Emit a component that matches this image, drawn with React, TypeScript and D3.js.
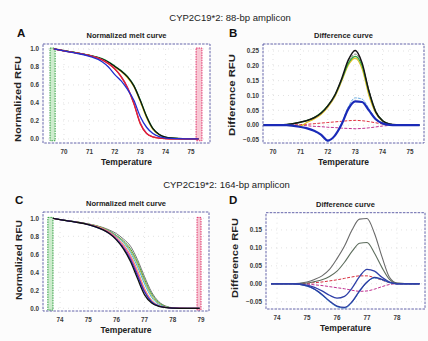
import React from "react";
import * as d3 from "d3";

// ---------------- data ----------------
const titleTop = "CYP2C19*2: 88-bp amplicon";
const titleBottom = "CYP2C19*2: 164-bp amplicon";
const meltTitle = "Normalized melt curve";
const diffTitle = "Difference curve";
const meltYLabel = "Normalized RFU";
const diffYLabel = "Difference RFU";
const xLabel = "Temperature";

// Panel A – normalized melt, 88 bp
const tempA = [69.6, 70, 70.5, 71, 71.5, 71.75, 72, 72.25, 72.5, 72.75, 73, 73.25, 73.5, 73.75, 74, 74.5, 75, 75.3];
const meltA_yellow = [1.0, 0.98, 0.957, 0.928, 0.887, 0.85, 0.8, 0.748, 0.68, 0.58, 0.415, 0.235, 0.105, 0.045, 0.018, 0.004, 0.001, 0];
const meltA_green = [1.0, 0.98, 0.958, 0.93, 0.892, 0.857, 0.81, 0.76, 0.695, 0.595, 0.435, 0.255, 0.118, 0.05, 0.02, 0.005, 0.001, 0];
const meltA_black = [1.0, 0.98, 0.957, 0.928, 0.888, 0.852, 0.805, 0.755, 0.69, 0.59, 0.43, 0.25, 0.115, 0.05, 0.02, 0.005, 0.001, 0];
const meltA_orange = [1.0, 0.979, 0.955, 0.925, 0.879, 0.837, 0.778, 0.693, 0.57, 0.395, 0.175, 0.062, 0.023, 0.009, 0.004, 0.001, 0, 0];
const meltA_magenta = [1.0, 0.979, 0.955, 0.926, 0.88, 0.838, 0.78, 0.695, 0.575, 0.4, 0.18, 0.065, 0.024, 0.01, 0.004, 0.001, 0, 0];
const meltA_red = [1.0, 0.979, 0.955, 0.925, 0.878, 0.835, 0.775, 0.69, 0.565, 0.39, 0.17, 0.06, 0.022, 0.009, 0.004, 0.001, 0, 0];
const meltA_blue = [1.0, 0.978, 0.952, 0.918, 0.858, 0.8, 0.715, 0.645, 0.55, 0.43, 0.25, 0.13, 0.06, 0.025, 0.01, 0.003, 0, 0];
const bandA_green = [69.45, 69.65];
const bandA_red = [75.2, 75.43];

// Panel B – difference, 88 bp
const tempB = [69.65, 70, 70.5, 71, 71.25, 71.5, 71.75, 72, 72.25, 72.5, 72.75, 73, 73.25, 73.5, 73.75, 74, 74.25, 74.5, 75, 75.35];
const diffB_yellow = [0, 0, -0.001, -0.002, 0.01, 0.021, 0.036, 0.06, 0.094, 0.146, 0.202, 0.226, 0.19, 0.1, 0.04, 0.012, 0.003, 0.001, 0, 0];
const diffB_gray = [0, 0, 0.002, 0.01, 0.016, 0.025, 0.04, 0.064, 0.098, 0.15, 0.21, 0.24, 0.205, 0.118, 0.048, 0.016, 0.004, 0.001, 0, 0];
const diffB_green = [0, 0, 0.002, 0.01, 0.016, 0.026, 0.042, 0.066, 0.1, 0.152, 0.208, 0.232, 0.2, 0.112, 0.045, 0.015, 0.004, 0.001, 0, 0];
const diffB_black = [0, 0, 0.002, 0.01, 0.016, 0.025, 0.04, 0.065, 0.1, 0.155, 0.22, 0.252, 0.21, 0.115, 0.045, 0.015, 0.004, 0.001, 0, 0];
const diffB_cyan = [0, 0, 0, -0.006, -0.011, -0.02, -0.034, -0.054, -0.036, 0.005, 0.062, 0.092, 0.088, 0.056, 0.022, 0.006, 0.001, 0, 0, 0];
const diffB_blue = [0, 0, 0, -0.006, -0.011, -0.019, -0.032, -0.052, -0.036, 0.002, 0.055, 0.08, 0.078, 0.05, 0.02, 0.006, 0.001, 0, 0, 0];
const diffB_red = [0, 0, 0, 0.002, 0.003, 0.005, 0.007, 0.009, 0.011, 0.013, 0.015, 0.016, 0.015, 0.012, 0.008, 0.004, 0.002, 0.001, 0, 0];
const diffB_magenta = [0, 0, 0, -0.001, -0.002, -0.004, -0.005, -0.007, -0.008, -0.01, -0.011, -0.012, -0.011, -0.009, -0.006, -0.003, -0.001, 0, 0, 0];

// Panel C – normalized melt, 164 bp
const tempC = [73.75, 74, 74.5, 75, 75.5, 75.75, 76, 76.25, 76.5, 76.75, 77, 77.25, 77.5, 77.75, 78, 78.5, 78.95];
const meltC_gray = [1, 0.986, 0.965, 0.938, 0.9, 0.87, 0.83, 0.77, 0.69, 0.54, 0.35, 0.18, 0.075, 0.025, 0.006, 0, 0];
const meltC_green = [1, 0.986, 0.964, 0.937, 0.895, 0.86, 0.81, 0.75, 0.66, 0.51, 0.32, 0.16, 0.065, 0.02, 0.005, 0, 0];
const meltC_olive = [1, 0.986, 0.963, 0.936, 0.893, 0.857, 0.805, 0.74, 0.64, 0.49, 0.3, 0.14, 0.055, 0.018, 0.004, 0, 0];
const meltC_cyan = [1, 0.986, 0.963, 0.935, 0.89, 0.855, 0.8, 0.73, 0.62, 0.46, 0.27, 0.12, 0.045, 0.015, 0.004, 0, 0];
const meltC_orange = [1, 0.985, 0.962, 0.934, 0.89, 0.85, 0.79, 0.71, 0.59, 0.42, 0.22, 0.09, 0.032, 0.011, 0.003, 0, 0];
const meltC_pink = [1, 0.985, 0.962, 0.933, 0.885, 0.845, 0.785, 0.7, 0.58, 0.4, 0.21, 0.085, 0.03, 0.01, 0.003, 0, 0];
const meltC_magenta = [1, 0.985, 0.962, 0.932, 0.88, 0.84, 0.775, 0.685, 0.56, 0.38, 0.19, 0.075, 0.028, 0.01, 0.003, 0, 0];
const meltC_blue = [1, 0.985, 0.96, 0.93, 0.875, 0.83, 0.765, 0.67, 0.54, 0.36, 0.18, 0.07, 0.025, 0.009, 0.002, 0, 0];
const meltC_black = [1, 0.985, 0.96, 0.93, 0.875, 0.83, 0.76, 0.66, 0.52, 0.33, 0.15, 0.06, 0.022, 0.008, 0.002, 0, 0];
const bandC_green = [73.57, 73.75];
const bandC_red = [78.86, 79.0];

// Panel D – difference, 164 bp
const tempD = [73.8, 74.5, 75, 75.25, 75.5, 75.75, 76, 76.25, 76.5, 76.75, 77, 77.25, 77.5, 77.75, 78, 78.5, 78.75];
const diffD_gray1 = [0, 0, 0.005, 0.012, 0.022, 0.04, 0.07, 0.105, 0.15, 0.18, 0.182, 0.14, 0.075, 0.018, 0.002, 0, 0];
const diffD_gray2 = [0, 0, 0.002, 0.006, 0.011, 0.02, 0.035, 0.06, 0.09, 0.113, 0.115, 0.085, 0.045, 0.012, 0.001, 0, 0];
const diffD_red1 = [0, 0, 0.001, 0.003, 0.005, 0.008, 0.011, 0.015, 0.019, 0.022, 0.022, 0.017, 0.01, 0.003, 0, 0, 0];
const diffD_red2 = [0, 0, -0.001, -0.003, -0.005, -0.008, -0.011, -0.014, -0.018, -0.021, -0.02, -0.015, -0.008, -0.002, 0, 0, 0];
const diffD_cyan = [0, 0, -0.007, -0.016, -0.032, -0.05, -0.064, -0.068, -0.052, -0.022, 0.004, 0.016, 0.011, 0.003, 0, 0, 0];
const diffD_blue1 = [0, 0, -0.004, -0.01, -0.02, -0.032, -0.04, -0.035, -0.012, 0.02, 0.04, 0.035, 0.018, 0.005, 0, 0, 0];
const diffD_blue2 = [0, 0, -0.006, -0.015, -0.03, -0.048, -0.062, -0.066, -0.05, -0.02, 0.005, 0.018, 0.012, 0.004, 0, 0, 0];

const ticksA_x = [70, 71, 72, 73, 74, 75];
const ticksMelt_y = [0, 0.2, 0.4, 0.6, 0.8, 1.0];
const ticksB_y = [-0.05, 0, 0.05, 0.1, 0.15, 0.2, 0.25];
const ticksC_x = [74, 75, 76, 77, 78, 79];
const ticksD_x = [74, 75, 76, 77, 78];
const ticksD_y = [-0.05, 0, 0.05, 0.1, 0.15];

// ---------------- drawing ----------------
const FONT = "'Liberation Sans', Arial, Helvetica, sans-serif";

type S = { x: number[]; y: number[]; color: string; w: number; dash?: string };
type Band = { r: number[]; fill: string; stroke: string };

type PanelProps = {
  left: number; right: number; top: number; bottom: number;
  xDom: [number, number]; yDom: [number, number];
  xTicks: number[]; yTicks: number[]; yFmt: (v: number) => string;
  series: S[]; bands?: Band[];
  title: string; letter: string; letterX: number; letterY: number;
  yLabel: string; yLabelX: number; yLabelY: number; yLabelLen: number;
};

function Panel(p: PanelProps) {
  const x = d3.scaleLinear().domain(p.xDom).range([p.left, p.right]);
  const y = d3.scaleLinear().domain(p.yDom).range([p.bottom, p.top]);
  const path = (s: S) =>
    d3
      .line<number>()
      .x((_, i) => x(s.x[i]))
      .y((d) => y(d))
      .curve(d3.curveMonotoneX)(s.y) || "";
  const cx = (p.left + p.right) / 2;
  return (
    <g fontFamily={FONT}>
      <rect x={p.left} y={p.top} width={p.right - p.left} height={p.bottom - p.top} fill="#fff" />
      {p.xTicks.map((t) => (
        <line key={"gx" + t} x1={x(t)} x2={x(t)} y1={p.top} y2={p.bottom} stroke="#cfcfcf" strokeWidth={0.6} strokeDasharray="1,4" />
      ))}
      {p.yTicks.map((t) => (
        <line key={"gy" + t} x1={p.left} x2={p.right} y1={y(t)} y2={y(t)} stroke="#cfcfcf" strokeWidth={0.6} strokeDasharray="1,4" />
      ))}
      {(p.bands || []).map((b, i) => (
        <rect key={"b" + i} x={x(b.r[0])} width={x(b.r[1]) - x(b.r[0])} y={y(1.01)} height={y(-0.02) - y(1.01)}
          fill={b.fill} stroke={b.stroke} strokeWidth={1} strokeDasharray="1.5,1" />
      ))}
      {p.series.map((s, i) => (
        <path key={"s" + i} d={path(s)} fill="none" stroke={s.color} strokeWidth={s.w} strokeDasharray={s.dash} strokeLinejoin="round" />
      ))}
      <rect x={p.left} y={p.top} width={p.right - p.left} height={p.bottom - p.top} fill="none"
        stroke="#5252a0" strokeWidth={0.9} strokeDasharray="2.5,1.2" />
      {p.xTicks.map((t) => (
        <text key={"tx" + t} x={x(t)} y={p.bottom + 10.5} fontSize={6.3} fontWeight="bold" fill="#3a3a3a" textAnchor="middle">{t}</text>
      ))}
      {p.yTicks.map((t) => (
        <text key={"ty" + t} x={p.left - 4} y={y(t) + 2.2} fontSize={6.3} fontWeight="bold" fill="#3a3a3a" textAnchor="end">{p.yFmt(t)}</text>
      ))}
      <text x={cx} y={p.top - 6} fontSize={7.5} fontWeight="bold" fill="#222" textAnchor="middle">{p.title}</text>
      <text x={cx} y={p.bottom + 22} fontSize={8.5} fontWeight="bold" fill="#222" textAnchor="middle">{xLabel}</text>
      <text transform={`translate(${p.yLabelX},${p.yLabelY}) rotate(-90)`} fontSize={8.5} fontWeight="bold" fill="#222" textAnchor="middle"
        dominantBaseline="middle" textLength={p.yLabelLen} lengthAdjust="spacingAndGlyphs">{p.yLabel}</text>
      <text x={p.letterX} y={p.letterY} fontSize={11.5} fontWeight="bold" fill="#111">{p.letter}</text>
    </g>
  );
}

const f1 = (v: number) => d3.format(".1f")(v);
const f2 = (v: number) => d3.format(".2f")(v);

export default function App() {
  const seriesA: S[] = [
    { x: tempA, y: meltA_yellow, color: "#e2d21c", w: 1.2 },
    { x: tempA, y: meltA_green, color: "#22a845", w: 1.2 },
    { x: tempA, y: meltA_black, color: "#111", w: 1.3 },
    { x: tempA, y: meltA_orange, color: "#f09020", w: 1.1 },
    { x: tempA, y: meltA_magenta, color: "#d02890", w: 1.2 },
    { x: tempA, y: meltA_red, color: "#e02030", w: 1.2 },
    { x: tempA, y: meltA_blue, color: "#1f2fd0", w: 1.3 },
  ];
  const seriesB: S[] = [
    { x: tempB, y: diffB_red, color: "#e03040", w: 1, dash: "3,1.5" },
    { x: tempB, y: diffB_magenta, color: "#c03090", w: 1, dash: "3,1.5" },
    { x: tempB, y: diffB_yellow, color: "#e0c020", w: 1.1 },
    { x: tempB, y: diffB_gray, color: "#8a8a8a", w: 1.1, dash: "3,1" },
    { x: tempB, y: diffB_green, color: "#30a838", w: 1.2 },
    { x: tempB, y: diffB_black, color: "#151515", w: 1.5 },
    { x: tempB, y: diffB_cyan, color: "#6aaee0", w: 1, dash: "3,1" },
    { x: tempB, y: diffB_blue, color: "#1a2ab8", w: 2.2 },
  ];
  const seriesC: S[] = [
    { x: tempC, y: meltC_gray, color: "#777", w: 1 },
    { x: tempC, y: meltC_green, color: "#3aa040", w: 1 },
    { x: tempC, y: meltC_olive, color: "#b0b040", w: 1 },
    { x: tempC, y: meltC_cyan, color: "#40b0d8", w: 1 },
    { x: tempC, y: meltC_orange, color: "#f0a040", w: 1 },
    { x: tempC, y: meltC_pink, color: "#f080a8", w: 1 },
    { x: tempC, y: meltC_magenta, color: "#c82090", w: 1 },
    { x: tempC, y: meltC_blue, color: "#2233c0", w: 1.1 },
    { x: tempC, y: meltC_black, color: "#111", w: 1.3 },
  ];
  const seriesD: S[] = [
    { x: tempD, y: diffD_red1, color: "#d83040", w: 1, dash: "3,1.5" },
    { x: tempD, y: diffD_red2, color: "#c03090", w: 1, dash: "3,1.5" },
    { x: tempD, y: diffD_gray1, color: "#6a6a6a", w: 1.1 },
    { x: tempD, y: diffD_gray2, color: "#5d6d5d", w: 1.1 },
    { x: tempD, y: diffD_cyan, color: "#4aa0d8", w: 1 },
    { x: tempD, y: diffD_blue2, color: "#2a3aa0", w: 1.3 },
    { x: tempD, y: diffD_blue1, color: "#3040a8", w: 1.3 },
  ];

  return (
    <svg width={428} height={341} style={{ position: "fixed", left: 0, top: 0, background: "#fff" }}>
      <rect width={428} height={341} fill="#fcfcfc" />
      <text x={230} y={21} fontFamily={FONT} fontSize={9.5} fill="#222" textAnchor="middle">{titleTop}</text>
      <text x={226.5} y={188} fontFamily={FONT} fontSize={9.5} fill="#222" textAnchor="middle">{titleBottom}</text>
      <Panel left={43} right={210} top={44} bottom={143} xDom={[69.173, 75.748]} yDom={[-0.045, 1.055]}
        xTicks={ticksA_x} yTicks={ticksMelt_y} yFmt={f1} series={seriesA}
        bands={[{ r: bandA_green, fill: "#cdeccd", stroke: "#2e9e3e" }, { r: bandA_red, fill: "#f8c8d4", stroke: "#e0306a" }]}
        title={meltTitle} letter="A" letterX={17} letterY={37} yLabel={meltYLabel} yLabelX={19} yLabelY={99} yLabelLen={86} />
      <Panel left={263} right={424} top={44} bottom={143} xDom={[69.635, 75.511]} yDom={[-0.0601, 0.2736]}
        xTicks={ticksA_x} yTicks={ticksB_y} yFmt={f2} series={seriesB}
        title={diffTitle} letter="B" letterX={229} letterY={37} yLabel={diffYLabel} yLabelX={233} yLabelY={95} yLabelLen={82} />
      <Panel left={43} right={209} top={212} bottom={311} xDom={[73.397, 79.284]} yDom={[-0.03, 1.07]}
        xTicks={ticksC_x} yTicks={ticksMelt_y} yFmt={f1} series={seriesC}
        bands={[{ r: bandC_green, fill: "#cdeccd", stroke: "#2e9e3e" }, { r: bandC_red, fill: "#f8c8d4", stroke: "#e0306a" }]}
        title={meltTitle} letter="C" letterX={15} letterY={204} yLabel={meltYLabel} yLabelX={20} yLabelY={260} yLabelLen={80} />
      <Panel left={266} right={425} top={212.7} bottom={309} xDom={[73.633, 78.933]} yDom={[-0.0703, 0.198]}
        xTicks={ticksD_x} yTicks={ticksD_y} yFmt={f2} series={seriesD}
        title={diffTitle} letter="D" letterX={229} letterY={204} yLabel={diffYLabel} yLabelX={236} yLabelY={258} yLabelLen={80} />
    </svg>
  );
}
